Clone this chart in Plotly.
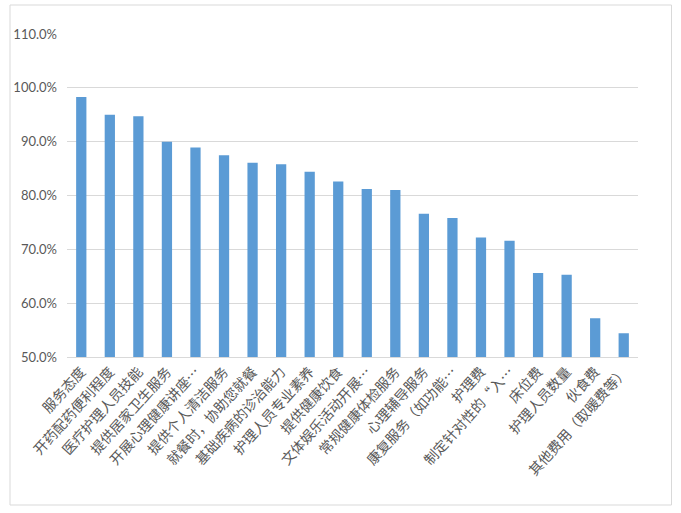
import plotly.graph_objects as go

categories = [
    "服务态度", "开药配药便利程度", "医疗护理人员技能", "提供居家卫生服务",
    "开展心理健康讲座…", "提供个人清洁服务", "就餐时，协助您就餐", "基础疾病的诊治能力",
    "护理人员专业素养", "提供健康饮食", "文体娱乐活动开展…", "常规健康体检服务",
    "心理辅导服务", "康复服务（如功能…", "护理费", "制定针对性的“入…",
    "床位费", "护理人员数量", "伙食费", "其他费用（取暖费等）",
]
values = [98.3, 95.0, 94.7, 90.0, 88.9, 87.5, 86.1, 85.8, 84.4, 82.6,
          81.2, 81.0, 76.6, 75.8, 72.2, 71.6, 65.6, 65.3, 57.2, 54.4]
y_range = [50, 110]

fig = go.Figure(go.Bar(
    x=categories, y=values,
    marker=dict(color="#5B9BD5", line=dict(width=0)),
))

L, R, T, B = 67, 43, 34, 156
W, H = 681, 513
pw, ph = W - L - R, H - T - B

fig.update_layout(
    width=W, height=H,
    margin=dict(l=L, r=R, t=T, b=B, pad=0),
    paper_bgcolor="white", plot_bgcolor="white",
    showlegend=False,
    bargap=0.64,
    font=dict(family="Lato, Noto Sans CJK SC", color="#595959", size=13),
    xaxis=dict(
        tickangle=-48,
        tickfont=dict(family="Noto Sans CJK SC", size=14, color="#595959"),
        showline=True, linecolor="#D9D9D9", linewidth=1,
        showgrid=False, ticks="",
    ),
    yaxis=dict(
        range=y_range, dtick=10, tickformat=".1f", ticksuffix="%",
        showgrid=True, gridcolor="#D9D9D9", gridwidth=1,
        zeroline=False, showline=False, ticks="",
        ticklabelstandoff=9,
        tickfont=dict(family="Lato", size=13, color="#595959"),
    ),
    shapes=[dict(
        type="rect", xref="paper", yref="paper",
        x0=(10 - L) / pw, x1=(671.5 - L) / pw,
        y0=(H - B - 505) / ph, y1=(H - B - 5) / ph,
        line=dict(color="#D9D9D9", width=1), fillcolor="rgba(0,0,0,0)",
        layer="below",
    )],
)

fig.write_html(
    "out.html",
    config={"displayModeBar": False},
    post_script="document.body.style.margin='0px';document.body.style.overflow='hidden';",
)
